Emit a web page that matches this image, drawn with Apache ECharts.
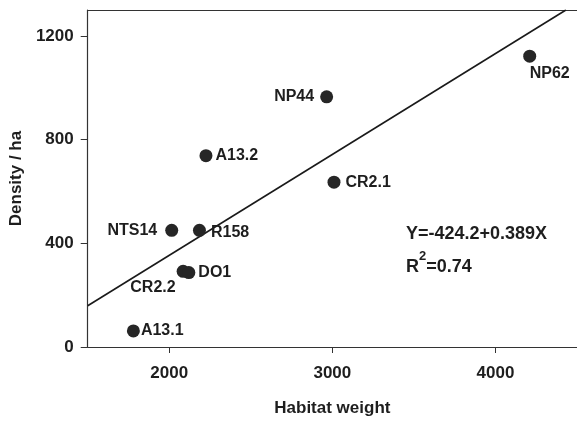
<!DOCTYPE html>
<html>
<head>
<meta charset="utf-8">
<script src="https://cdn.jsdelivr.net/npm/echarts@6/dist/echarts.min.js"></script>
<style>
  html, body { margin: 0; padding: 0; background: #fff; }
  #chart { width: 577px; height: 422px; }
</style>
</head>
<body>
<div id="chart"></div>
<script>
// sites: habitat weight vs density
const siteNames = ['NP62', 'NP44', 'CR2.1', 'A13.2', 'NTS14', 'R158', 'CR2.2', 'DO1', 'A13.1'];
const habitatWeight = [4210, 2965, 3010, 2225, 2015, 2185, 2085, 2120, 1780];
const density = [1122, 965, 636, 738, 450, 450, 292, 287, 62];

// regression line end points
const fitX = [1500, 4432];
const fitY = [159, 1300];

const xTicks = [2000, 3000, 4000];
const yTicks = [0, 400, 800, 1200];

// label placement per site
const labelPos = {
  'NP62': { position: 'bottom', distance: 1, offset: [20, 2] },
  'NP44': { position: 'left', distance: 6 },
  'CR2.1': { position: 'right', distance: 5 },
  'A13.2': { position: 'right', distance: 3 },
  'NTS14': { position: 'left', distance: 8 },
  'R158': { position: 'right', distance: 5, offset: [0, 2] },
  'CR2.2': { position: 'left', distance: 2, offset: [1, 16] },
  'DO1': { position: 'right', distance: 3 },
  'A13.1': { position: 'right', distance: 1 }
};

const font = 'Liberation Sans, Arial, sans-serif';
const ink = '#1e1e1e';

const chart = echarts.init(document.getElementById('chart'));

const points = siteNames.map((n, i) => ({
  name: n,
  value: [habitatWeight[i], density[i]],
  label: Object.assign({ show: true }, labelPos[n])
}));

const option = {
  animation: false,
  backgroundColor: '#fff',
  grid: { left: 87, top: 10, right: 0, bottom: 73 },
  xAxis: [{
    type: 'value',
    min: 1500, max: 4500,
    interval: 500,
    name: 'Habitat weight',
    nameLocation: 'middle',
    nameGap: 53,
    nameTextStyle: { fontFamily: font, fontSize: 17, fontWeight: 'bold', color: ink },
    axisLine: { lineStyle: { color: '#333', width: 1.2 } },
    axisTick: { show: true, length: 6, lineStyle: { color: '#333' },
      customValues: xTicks },
    axisLabel: { fontFamily: font, fontSize: 17, fontWeight: 'bold', color: ink, margin: 18,
      formatter: v => String(v), customValues: xTicks },
    splitLine: { show: false }
  }, {
    type: 'value',
    position: 'top',
    min: 1500, max: 4500,
    axisLine: { show: true, onZero: false, lineStyle: { color: '#333', width: 1.2 } },
    axisTick: { show: false },
    axisLabel: { show: false },
    splitLine: { show: false }
  }],
  yAxis: {
    type: 'value',
    min: 0, max: 1300,
    interval: 100,
    name: 'Density / ha',
    nameLocation: 'middle',
    nameGap: 61,
    nameTextStyle: { fontFamily: font, fontSize: 17, fontWeight: 'bold', color: ink },
    axisLine: { show: true, lineStyle: { color: '#333', width: 1.2 } },
    axisTick: { show: true, length: 7, lineStyle: { color: '#333' },
      customValues: yTicks },
    axisLabel: { fontFamily: font, fontSize: 17, fontWeight: 'bold', color: ink, margin: 14,
      formatter: v => String(v), customValues: yTicks },
    splitLine: { show: false }
  },
  series: [{
    type: 'line',
    data: fitX.map((x, i) => [x, fitY[i]]),
    symbol: 'none',
    lineStyle: { color: '#1a1a1a', width: 1.6 },
    z: 1
  }, {
    type: 'scatter',
    data: points,
    symbolSize: 13,
    itemStyle: { color: '#262626', opacity: 1 },
    label: {
      formatter: '{b}',
      fontFamily: font, fontSize: 16, fontWeight: 'bold', color: ink
    },
    z: 2
  }],
  graphic: [{
    type: 'text',
    left: 406, top: 225,
    style: {
      text: 'Y=-424.2+0.389X',
      font: 'bold 18px ' + font,
      fill: ink
    }
  }, {
    type: 'text',
    left: 406, top: 250,
    style: {
      text: '{b|R}{s|2}{b|=0.74}',
      fill: ink,
      rich: {
        b: { font: 'bold 18px ' + font, fill: ink, verticalAlign: 'bottom', lineHeight: 26 },
        s: { font: 'bold 13px ' + font, fill: ink, verticalAlign: 'top', lineHeight: 26, padding: [0, 0, 10, 0] }
      }
    }
  }]
};

chart.setOption(option);
</script>
</body>
</html>
